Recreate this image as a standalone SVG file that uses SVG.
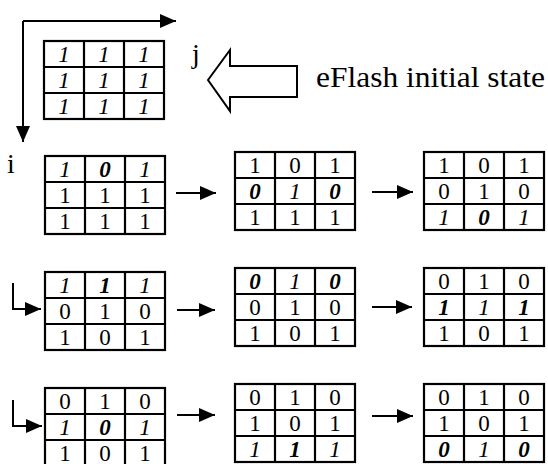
<svg xmlns="http://www.w3.org/2000/svg" width="548" height="464" viewBox="0 0 548 464" font-family="'Liberation Serif', 'DejaVu Serif', serif">
  <style>
    text { font-family: "Liberation Serif", "DejaVu Serif", serif; fill: #000; }
    .cell text { font-size: 23px; text-anchor: middle; }
    .it { font-style: italic; }
    .bi { font-style: italic; font-weight: bold; }
    .grid { fill: #fff; stroke: #000; stroke-width: 2.2; }
    .conn { fill: none; stroke: #000; stroke-width: 2; }
    .label { font-size: 28px; }
  </style>
  <defs>
    <!-- 3x3 cell grid, 120 x 78 -->
    <g id="grid">
      <rect class="grid" x="0" y="0" width="120" height="78"/>
      <path class="grid" d="M40,0V78M80,0V78M0,26H120M0,52H120"/>
    </g>
    <marker id="head" markerUnits="userSpaceOnUse" markerWidth="16" markerHeight="14" refX="16" refY="7" orient="auto">
      <path d="M0,0L16,7L0,14z" fill="#000"/>
    </marker>
  </defs>

  <!-- axis indicators -->
  <g id="axes">
    <path class="conn" d="M23,21H176" marker-end="url(#head)"/>
    <path class="conn" d="M23,21V142" marker-end="url(#head)"/>
    <text class="label" x="192" y="63">j</text>
    <text class="label" x="7" y="173">i</text>
  </g>

  <!-- initial state matrix -->
  <g id="m-init" class="cell" transform="translate(44,41)">
    <use href="#grid"/>
    <text class="it" x="20" y="21">1</text><text class="it" x="60" y="21">1</text><text class="it" x="100" y="21">1</text>
    <text class="it" x="20" y="47">1</text><text class="it" x="60" y="47">1</text><text class="it" x="100" y="47">1</text>
    <text class="it" x="20" y="73">1</text><text class="it" x="60" y="73">1</text><text class="it" x="100" y="73">1</text>
  </g>

  <!-- hollow callout arrow with caption -->
  <g id="callout">
    <path d="M208,80L230,50V66H297V97H230V111z" fill="#fff" stroke="#000" stroke-width="2"/>
    <text x="316" y="87" font-size="29" textLength="229" lengthAdjust="spacingAndGlyphs">eFlash initial state</text>
  </g>

  <!-- row 1 -->
  <g id="r1a" class="cell" transform="translate(45,156)">
    <use href="#grid"/>
    <text class="it" x="20" y="21">1</text><text class="bi" x="60" y="21">0</text><text class="it" x="100" y="21">1</text>
    <text x="20" y="47">1</text><text x="60" y="47">1</text><text x="100" y="47">1</text>
    <text x="20" y="73">1</text><text x="60" y="73">1</text><text x="100" y="73">1</text>
  </g>
  <g id="r1b" class="cell" transform="translate(235,152)">
    <use href="#grid"/>
    <text x="20" y="21">1</text><text x="60" y="21">0</text><text x="100" y="21">1</text>
    <text class="bi" x="20" y="47">0</text><text class="it" x="60" y="47">1</text><text class="bi" x="100" y="47">0</text>
    <text x="20" y="73">1</text><text x="60" y="73">1</text><text x="100" y="73">1</text>
  </g>
  <g id="r1c" class="cell" transform="translate(424,152)">
    <use href="#grid"/>
    <text x="20" y="21">1</text><text x="60" y="21">0</text><text x="100" y="21">1</text>
    <text x="20" y="47">0</text><text x="60" y="47">1</text><text x="100" y="47">0</text>
    <text class="it" x="20" y="73">1</text><text class="bi" x="60" y="73">0</text><text class="it" x="100" y="73">1</text>
  </g>

  <!-- row 2 -->
  <g id="r2a" class="cell" transform="translate(45,272)">
    <use href="#grid"/>
    <text class="it" x="20" y="21">1</text><text class="bi" x="60" y="21">1</text><text class="it" x="100" y="21">1</text>
    <text x="20" y="47">0</text><text x="60" y="47">1</text><text x="100" y="47">0</text>
    <text x="20" y="73">1</text><text x="60" y="73">0</text><text x="100" y="73">1</text>
  </g>
  <g id="r2b" class="cell" transform="translate(235,268)">
    <use href="#grid"/>
    <text class="bi" x="20" y="21">0</text><text class="it" x="60" y="21">1</text><text class="bi" x="100" y="21">0</text>
    <text x="20" y="47">0</text><text x="60" y="47">1</text><text x="100" y="47">0</text>
    <text x="20" y="73">1</text><text x="60" y="73">0</text><text x="100" y="73">1</text>
  </g>
  <g id="r2c" class="cell" transform="translate(424,268)">
    <use href="#grid"/>
    <text x="20" y="21">0</text><text x="60" y="21">1</text><text x="100" y="21">0</text>
    <text class="bi" x="20" y="47">1</text><text class="it" x="60" y="47">1</text><text class="bi" x="100" y="47">1</text>
    <text x="20" y="73">1</text><text x="60" y="73">0</text><text x="100" y="73">1</text>
  </g>

  <!-- row 3 -->
  <g id="r3a" class="cell" transform="translate(45,388)">
    <use href="#grid"/>
    <text x="20" y="21">0</text><text x="60" y="21">1</text><text x="100" y="21">0</text>
    <text class="it" x="20" y="47">1</text><text class="bi" x="60" y="47">0</text><text class="it" x="100" y="47">1</text>
    <text x="20" y="73">1</text><text x="60" y="73">0</text><text x="100" y="73">1</text>
  </g>
  <g id="r3b" class="cell" transform="translate(235,384)">
    <use href="#grid"/>
    <text x="20" y="21">0</text><text x="60" y="21">1</text><text x="100" y="21">0</text>
    <text x="20" y="47">1</text><text x="60" y="47">0</text><text x="100" y="47">1</text>
    <text class="it" x="20" y="73">1</text><text class="bi" x="60" y="73">1</text><text class="it" x="100" y="73">1</text>
  </g>
  <g id="r3c" class="cell" transform="translate(424,384)">
    <use href="#grid"/>
    <text x="20" y="21">0</text><text x="60" y="21">1</text><text x="100" y="21">0</text>
    <text x="20" y="47">1</text><text x="60" y="47">0</text><text x="100" y="47">1</text>
    <text class="bi" x="20" y="73">0</text><text class="it" x="60" y="73">1</text><text class="bi" x="100" y="73">0</text>
  </g>

  <!-- connectors -->
  <g id="connectors">
    <path class="conn" d="M176,193H216" marker-end="url(#head)"/>
    <path class="conn" d="M372,192H413" marker-end="url(#head)"/>
    <path class="conn" d="M13,283V309H41" marker-end="url(#head)"/>
    <path class="conn" d="M177,310H215" marker-end="url(#head)"/>
    <path class="conn" d="M372,307H412" marker-end="url(#head)"/>
    <path class="conn" d="M13,400V426H42" marker-end="url(#head)"/>
    <path class="conn" d="M177,415H215" marker-end="url(#head)"/>
    <path class="conn" d="M372,416H413" marker-end="url(#head)"/>
  </g>
</svg>
